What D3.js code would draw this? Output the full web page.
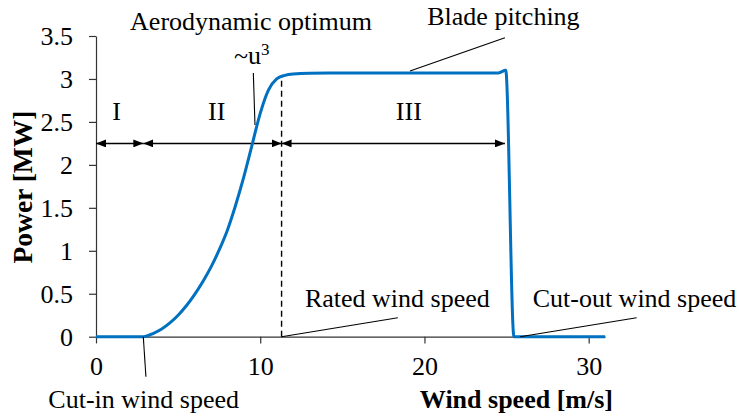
<!DOCTYPE html>
<html>
<head>
<meta charset="utf-8">
<script src="https://cdn.jsdelivr.net/npm/d3@7"></script>
<style>
  html, body { margin: 0; padding: 0; background: #fff; }
  svg text { font-family: "Liberation Serif", "Times New Roman", serif; fill: #000; }
</style>
</head>
<body>
<script>
// Wind turbine power curve: power output vs. hub-height wind speed
const windSpeed = [0, 2.9, 3.5, 4, 4.5, 5, 5.5, 6, 6.5, 7, 7.5, 8, 8.5, 9, 9.5, 10, 10.5, 11, 11.5, 12, 13, 15, 20, 24.5, 24.95, 25.45, 31];
const powerMW   = [0, 0, 0.04, 0.09, 0.16, 0.25, 0.36, 0.49, 0.64, 0.81, 1.01, 1.24, 1.53, 1.86, 2.23, 2.6, 2.87, 3.0, 3.042, 3.058, 3.067, 3.07, 3.07, 3.07, 3.1, 0, 0];

const xTicks = [0, 10, 20, 30];
const yTicks = [0, 0.5, 1, 1.5, 2, 2.5, 3, 3.5];

// Operating regions and the wind speeds that bound them
const cutIn = 2.88, rated = 11.3, cutOut = 24.9;
const regionNames = ["I", "II", "III"];
const regionBounds = [[0, cutIn], [cutIn, rated], [rated, cutOut]];
const regionLabelX = [1.26, 7.35, 19.05];
const arrowLevel = 2.25;

const W = 739, H = 419;
const svg = d3.select("body").append("svg").attr("width", W).attr("height", H);

const x = d3.scaleLinear().domain([0, 31]).range([96, 605.1]);
const y = d3.scaleLinear().domain([0, 3.5]).range([336.7, 36]);

const serif = '"Liberation Serif", "Times New Roman", serif';
const axisColor = "#333";
const fs = 26;

// Axes
const xAxis = svg.append("g")
  .attr("transform", `translate(0,${y(0)})`)
  .call(d3.axisBottom(x).tickValues(xTicks).tickSize(6.7).tickPadding(13).tickSizeOuter(0));
const yAxis = svg.append("g")
  .attr("transform", `translate(${x(0)},0)`)
  .call(d3.axisLeft(y).tickValues(yTicks).tickSize(7).tickPadding(16).tickSizeOuter(0)
    .tickFormat(d => String(d)));
[xAxis, yAxis].forEach(g => {
  g.attr("font-family", serif).attr("font-size", fs);
  g.selectAll("path, line").attr("stroke", axisColor).attr("stroke-width", 1.2);
  g.selectAll("text").attr("fill", "#000");
});

// Axis titles
svg.append("text")
  .attr("x", x(25.6)).attr("y", 408)
  .attr("text-anchor", "middle").attr("font-weight", "bold").attr("font-size", fs)
  .text("Wind speed [m/s]");
svg.append("text")
  .attr("transform", `translate(32,${187}) rotate(-90)`)
  .attr("text-anchor", "middle").attr("font-weight", "bold").attr("font-size", 27.5)
  .text("Power [MW]");

// Arrowhead marker for the region spans
svg.append("defs").append("marker")
  .attr("id", "head")
  .attr("markerUnits", "userSpaceOnUse")
  .attr("viewBox", "0 0 10 8")
  .attr("refX", 10).attr("refY", 4)
  .attr("markerWidth", 10).attr("markerHeight", 8)
  .attr("orient", "auto-start-reverse")
  .append("path").attr("d", "M0,0L10,4L0,8Z").attr("fill", "#000");

// Rated wind speed marker
svg.append("line")
  .attr("x1", x(rated)).attr("x2", x(rated))
  .attr("y1", y(0)).attr("y2", y(3.035))
  .attr("stroke", "#000").attr("stroke-width", 1.4).attr("stroke-dasharray", "6,4");

// Region spans and labels
regionBounds.forEach((b, i) => {
  svg.append("line")
    .attr("x1", x(b[0])).attr("x2", x(b[1]))
    .attr("y1", y(arrowLevel)).attr("y2", y(arrowLevel))
    .attr("stroke", "#000").attr("stroke-width", 1.5)
    .attr("marker-start", "url(#head)").attr("marker-end", "url(#head)");
  svg.append("text")
    .attr("x", x(regionLabelX[i])).attr("y", y(2.522))
    .attr("text-anchor", "middle").attr("font-size", fs)
    .text(regionNames[i]);
});

// Power curve
const line = d3.line()
  .x((d, i) => x(windSpeed[i]))
  .y((d, i) => y(powerMW[i]))
  .curve(d3.curveMonotoneX);
svg.append("path")
  .attr("d", line(windSpeed))
  .attr("fill", "none").attr("stroke", "#0070C0").attr("stroke-width", 3)
  .attr("stroke-linejoin", "round");

// Callouts: leader line from a point on the chart to its label
const leaders = [
  { from: [9.68, 2.464], to: [9.58, 3.07] },
  { from: [19.12, 3.093], to: [24.9, 3.48] },
  { from: [rated, 0], to: [18.38, 0.221] },
  { from: [25.82, 0], to: [32.92, 0.221] },
  { from: [cutIn, 0], to: [3.04, -0.466] }
];
leaders.forEach(l => {
  svg.append("line")
    .attr("x1", x(l.from[0])).attr("y1", y(l.from[1]))
    .attr("x2", x(l.to[0])).attr("y2", y(l.to[1]))
    .attr("stroke", "#000").attr("stroke-width", 1.1);
});

const labels = [
  { text: "Aerodynamic optimum", at: [9.44, 3.57], anchor: "middle" },
  { text: "Blade pitching", at: [24.81, 3.628], anchor: "middle" },
  { text: "Rated wind speed", at: [12.72, 0.35], anchor: "start" },
  { text: "Cut-out wind speed", at: [26.59, 0.35], anchor: "start" },
  { text: "Cut-in wind speed", at: [-2.9, -0.83], anchor: "start" }
];
labels.forEach(l => {
  svg.append("text")
    .attr("x", x(l.at[0])).attr("y", y(l.at[1]))
    .attr("text-anchor", l.anchor).attr("font-size", fs)
    .text(l.text);
});

// Cubic law note
const cubic = svg.append("text")
  .attr("x", x(8.4)).attr("y", y(3.175))
  .attr("font-size", fs);
cubic.append("tspan").text("~u");
cubic.append("tspan").attr("font-size", 17).attr("dy", -9).text("3");
</script>
</body>
</html>
